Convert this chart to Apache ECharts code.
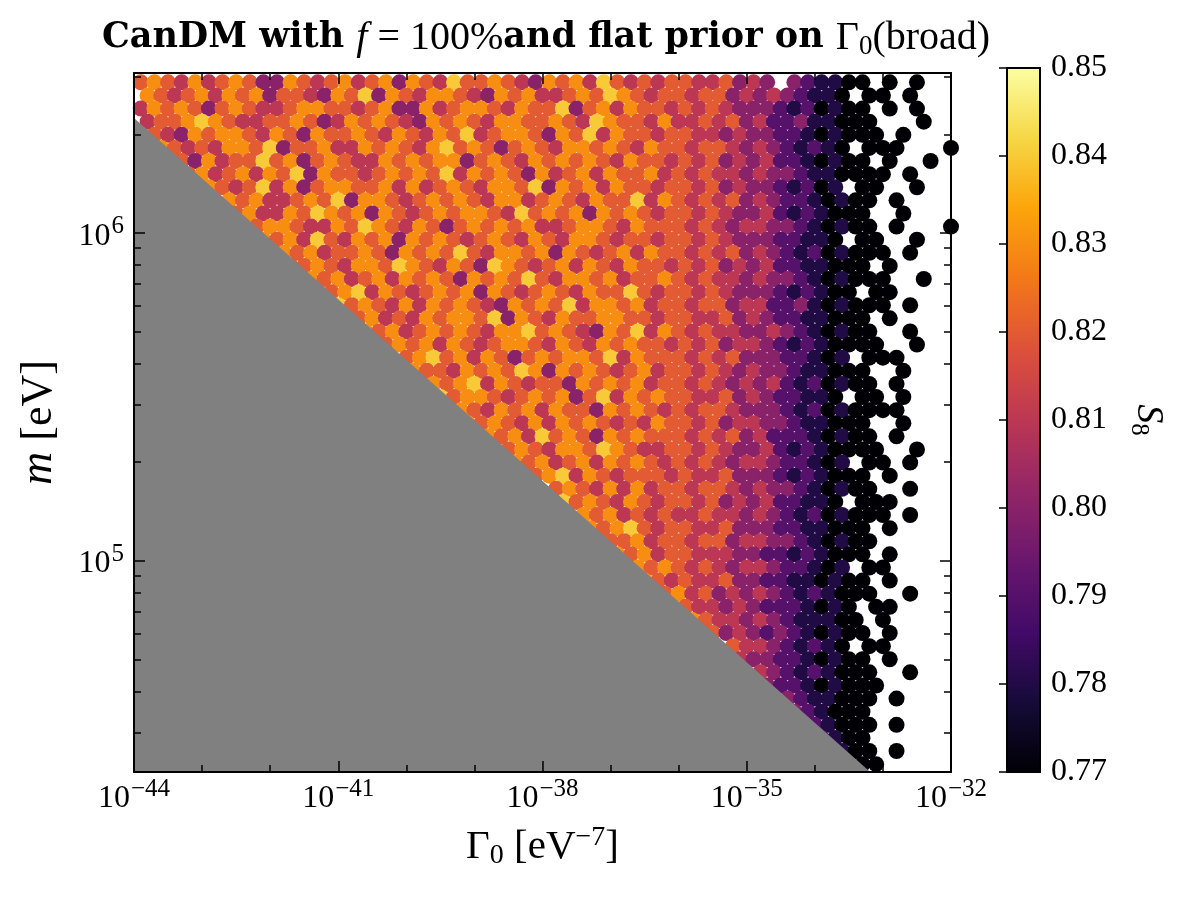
<!DOCTYPE html>
<html>
<head>
<meta charset="utf-8">
<script src="https://cdn.jsdelivr.net/npm/echarts@6/dist/echarts.min.js"></script>
<style>
html, body { margin: 0; padding: 0; background: #fff; }
#container { width: 1200px; height: 901px; }
</style>
</head>
<body>
<div id="container"></div>
<script>
// S8 samples on a grid in (log10 Gamma0, log10 m).
// column c sits at gammaStart + c*gammaStep, row r at massStart + r*massStep.
// digit d means S8 = 0.77 + 0.01*d, '.' means no point there.
var gammaStart = -43.9, gammaStep = 0.2;
var massStart = 6.46, massStep = -0.04;
var s8Rows = [
    "56546 45653 36545 64563 65475 56543 65647 54545 54453 43.32 1100. 0.0..",
    "65456 46563 55436 57365 46654 36564 45657 65455 45534 34321 10.00 .0...",
    "46565 35654 45665 54563 36456 65465 57356 46554 54543 33212 0100. 0.0..",
    "45567 65445 56534 65654 36565 46655 65476 55464 45453 42231 1000. ..0..",
    "65436 56654 65365 56546 54657 45665 36574 65545 54434 33221 01000 .0...",
    ".6545 46657 35564 46565 46756 53565 46656 54655 45543 43212 10.00 0...0",
    "..653 64557 56356 54465 65663 56546 56565 46554 54534 34221 0100. 0..0.",
    "...56 45646 57365 54565 65746 56536 45646 55645 45443 43321 10000 .0...",
    "....7 65457 46356 65564 64565 46657 36564 65545 54534 33212 01.00 ..0..",
    "..... .6564 45657 36654 56565 46645 65465 57465 45453 43221 0100. 0....",
    "..... ..564 46576 56365 45656 65475 65636 56545 54543 34212 1000. .0...",
    "..... ...56 65446 57654 65356 56564 45665 46555 45434 43321 0100. 0...0",
    "..... ....6 56475 46563 65654 56546 54665 45545 54543 33221 10.00 ..0..",
    "..... ..... 65645 56536 56575 46656 36545 64655 45453 43212 01000 .0...",
    "..... ..... .5565 46657 65465 37654 56465 46554 54534 34221 1000. 0....",
    "..... ..... ..656 45646 56536 56575 46656 45565 45443 43321 01000 ..0..",
    "..... ..... ...65 67465 45656 36545 65465 57545 54543 33212 100.0 0....",
    "..... ..... ....7 56546 46565 43656 57466 56455 45534 42231 01000 .0...",
    "..... ..... ..... 65645 46566 57365 46556 65545 54453 43221 1000. 0....",
    "..... ..... ..... .6564 56565 46675 65436 57465 45443 34321 0100. .0...",
    "..... ..... ..... ...56 56465 45665 46546 56554 54534 43212 10000 ..0..",
    "..... ..... ..... ....5 67564 65356 56657 46555 45453 33221 01.00 0....",
    "..... ..... ..... ..... 65546 56576 36565 45645 54543 43321 1000. .0...",
    "..... ..... ..... ..... .6567 46545 53656 56455 45434 34212 0100. 0....",
    "..... ..... ..... ..... ..756 65456 56357 46565 54453 43221 10.00 .0...",
    "..... ..... ..... ..... ...65 46564 65536 56545 45543 33212 01000 0....",
    "..... ..... ..... ..... ....6 56546 46565 45465 54534 43321 1000. .0...",
    "..... ..... ..... ..... ..... 65647 56536 56555 45453 42221 0100. 0....",
    "..... ..... ..... ..... ..... .5565 46657 65445 54543 34212 10000 ..0..",
    "..... ..... ..... ..... ..... ..656 45646 56545 45434 43221 01.00 .0...",
    "..... ..... ..... ..... ..... ...65 67465 45554 54453 33212 1000. 0....",
    "..... ..... ..... ..... ..... ..... 56546 46455 45543 43321 0100. .0...",
    "..... ..... ..... ..... ..... ..... .7565 46545 54534 34221 10.00 0....",
    "..... ..... ..... ..... ..... ..... ..656 45454 45443 43212 01000 .0...",
    "..... ..... ..... ..... ..... ..... ...65 67545 54453 33221 1000. 0....",
    "..... ..... ..... ..... ..... ..... ....5 56455 45534 43321 0100. .....",
    "..... ..... ..... ..... ..... ..... ..... 65645 54443 32212 1000. 0....",
    "..... ..... ..... ..... ..... ..... ..... .6565 45434 43221 01.00 .....",
    "..... ..... ..... ..... ..... ..... ..... ..654 54453 32211 0100. 0....",
    "..... ..... ..... ..... ..... ..... ..... ...56 45343 43212 1000. .0...",
    "..... ..... ..... ..... ..... ..... ..... ....5 54434 32221 010.0 0....",
    "..... ..... ..... ..... ..... ..... ..... ..... 65443 43211 100.0 .....",
    "..... ..... ..... ..... ..... ..... ..... ..... ..534 32321 0100. 0....",
    "..... ..... ..... ..... ..... ..... ..... ..... ...54 43212 10.00 .....",
    "..... ..... ..... ..... ..... ..... ..... ..... ....4 33221 0100. 0....",
    "..... ..... ..... ..... ..... ..... ..... ..... ..... 43212 1000. .0...",
    "..... ..... ..... ..... ..... ..... ..... ..... ..... .3221 01000 .....",
    "..... ..... ..... ..... ..... ..... ..... ..... ..... ..321 1000. 0....",
    "..... ..... ..... ..... ..... ..... ..... ..... ..... ...32 1000. .....",
    "..... ..... ..... ..... ..... ..... ..... ..... ..... ....2 1000. 0....",
    "..... ..... ..... ..... ..... ..... ..... ..... ..... ..... 2100. .....",
    "..... ..... ..... ..... ..... ..... ..... ..... ..... ..... .100. 0....",
    "..... ..... ..... ..... ..... ..... ..... ..... ..... ..... ..000 ....."
];

// edge of the excluded (grey) region, [log10 Gamma0, log10 m]
var boundary = [[-44, 6.351], [-33.19, 4.357]];

// axis ranges and ticks
var gammaMin = -44, gammaMax = -32;
var massMin = 2.27e4, massMax = 3.08e6;
var xMajor = [-44, -41, -38, -35, -32];
var xMinor = [-43, -42, -40, -39, -37, -36, -34, -33];
var yMajor = [1e5, 1e6];
var yMinor = [3e4, 4e4, 5e4, 6e4, 7e4, 8e4, 9e4, 2e5, 3e5, 4e5, 5e5, 6e5, 7e5, 8e5, 9e5, 2e6, 3e6];
var s8Min = 0.77, s8Max = 0.85;
var s8Ticks = [0.77, 0.78, 0.79, 0.80, 0.81, 0.82, 0.83, 0.84, 0.85];
var inferno = ['#000004', '#160b39', '#420a68', '#6a176e', '#932667', '#bc3754',
               '#dd513a', '#f37819', '#fca50a', '#f6d746', '#fcffa4'];

var FONT = 'Liberation Serif';
var BOLD = 'DejaVu Serif';

// build the scatter points (odd rows staggered by half a cell)
var points = [];
s8Rows.forEach(function (row, r) {
    var cells = row.replace(/\s/g, '');
    for (var c = 0; c < cells.length; c++) {
        var ch = cells.charAt(c);
        if (ch === '.') continue;
        var g = gammaStart + c * gammaStep + (r % 2 ? gammaStep / 2 : 0);
        var m = massStart + r * massStep;
        points.push([g, m, +(s8Min + 0.01 * parseInt(ch, 10)).toFixed(2)]);
    }
});

var yLo = Math.log10(massMin), yHi = Math.log10(massMax);

var richTick = {
    b: { fontFamily: FONT, fontSize: 32, lineHeight: 38, color: '#000', verticalAlign: 'bottom' },
    s: { fontFamily: FONT, fontSize: 25, lineHeight: 38, color: '#000', verticalAlign: 'top', padding: [0, 0, 0, 1] }
};

function xAxisDef(pos, ticks, len, major) {
    return {
        type: 'value', gridIndex: 0, min: gammaMin, max: gammaMax, position: pos, z: 10,
        axisLine: { show: major, onZero: false, lineStyle: { color: '#000', width: 2 } },
        splitLine: { show: false },
        axisTick: { show: true, inside: true, length: len, customValues: ticks,
                    lineStyle: { color: '#000', width: 1.5 } },
        axisLabel: { show: major && pos === 'bottom', customValues: ticks, margin: 5,
                     formatter: function (v) { return '{b|10}{s|\u2212' + Math.abs(v) + '}'; },
                     rich: richTick }
    };
}
function yAxisDef(pos, ticks, len, major) {
    return {
        type: 'value', gridIndex: 0, min: yLo, max: yHi, position: pos, z: 10,
        axisLine: { show: major, onZero: false, lineStyle: { color: '#000', width: 2 } },
        splitLine: { show: false },
        axisTick: { show: true, inside: true, length: len, customValues: ticks.map(Math.log10),
                    lineStyle: { color: '#000', width: 1.5 } },
        axisLabel: { show: major && pos === 'left', customValues: ticks.map(Math.log10), margin: 10,
                     formatter: function (v) { return '{b|10}{s|' + Math.round(v) + '}'; },
                     rich: richTick }
    };
}

var xAxes = [
    xAxisDef('bottom', xMajor, 11, true),
    xAxisDef('bottom', xMinor, 7, false),
    xAxisDef('top', xMajor, 11, true),
    xAxisDef('top', xMinor, 7, false),
    { type: 'value', gridIndex: 1, min: 0, max: 1, show: false }
];
xAxes[0].name = '{r|\u0393}{sub|0}{r| [eV}{sup|\u22127}{r|]}';
xAxes[0].nameLocation = 'middle';
xAxes[0].nameGap = 52;
xAxes[0].nameMoveOverlap = false;
xAxes[0].nameTextStyle = { rich: {
    r: { fontFamily: FONT, fontSize: 41, lineHeight: 46, color: '#000' },
    sub: { fontFamily: FONT, fontSize: 28, lineHeight: 46, color: '#000', verticalAlign: 'bottom' },
    sup: { fontFamily: FONT, fontSize: 28, lineHeight: 46, color: '#000', verticalAlign: 'top' }
} };

var yAxes = [
    yAxisDef('left', yMajor, 11, true),
    yAxisDef('left', yMinor, 7, false),
    yAxisDef('right', yMajor, 11, true),
    yAxisDef('right', yMinor, 7, false),
    {
        type: 'value', gridIndex: 1, min: s8Min, max: s8Max, position: 'right', z: 10,
        axisLine: { show: false }, splitLine: { show: false },
        axisTick: { show: true, inside: true, length: 8, customValues: s8Ticks,
                    lineStyle: { color: '#000', width: 1.5 } },
        axisLabel: { customValues: s8Ticks, margin: 11, fontFamily: FONT, fontSize: 32, color: '#000',
                     formatter: function (v) { return v.toFixed(2); } },
        name: '{i|S}{sub|8}', nameLocation: 'middle', nameRotate: -90, nameGap: 86,
        nameTextStyle: { rich: {
            i: { fontFamily: FONT, fontStyle: 'italic', fontSize: 38, lineHeight: 44, color: '#000' },
            sub: { fontFamily: FONT, fontSize: 25, lineHeight: 44, color: '#000', verticalAlign: 'bottom' }
        } }
    }
];
yAxes[0].name = '{i|m}{r| [eV]}';
yAxes[0].nameLocation = 'middle';
yAxes[0].nameGap = 72;
yAxes[0].nameTextStyle = { rich: {
    i: { fontFamily: FONT, fontStyle: 'italic', fontSize: 46, color: '#000' },
    r: { fontFamily: FONT, fontSize: 44, color: '#000' }
} };

var gradientStops = inferno.map(function (c, i) {
    return { offset: i / (inferno.length - 1), color: c };
});

var myChart = echarts.init(document.getElementById('container'));
var option = {
    animation: false,
    backgroundColor: '#fff',
    grid: [
        { left: 134, right: 249, top: 73, bottom: 129 },
        { left: 1007, width: 33, top: 68, bottom: 129 }
    ],
    graphic: [{
        type: 'text', x: 546, y: 38, z: 20,
        style: {
            text: '{b|CanDM with }{i|f}{r| = 100%}{b|and flat prior on }{r|\u0393}{sub|0}{r|(broad)}',
            align: 'center', verticalAlign: 'middle',
            rich: {
                b: { fontFamily: BOLD, fontWeight: 'bold', fontSize: 35, lineHeight: 44, fill: '#000' },
                i: { fontFamily: FONT, fontStyle: 'italic', fontSize: 40, lineHeight: 44, fill: '#000' },
                r: { fontFamily: FONT, fontSize: 40, lineHeight: 44, fill: '#000' },
                sub: { fontFamily: FONT, fontSize: 27, lineHeight: 44, fill: '#000', verticalAlign: 'bottom' }
            }
        }
    }],
    xAxis: xAxes,
    yAxis: yAxes,
    visualMap: {
        show: false, type: 'continuous', min: s8Min, max: s8Max,
        dimension: 2, seriesIndex: 0, inRange: { color: inferno }
    },
    series: [
        {
            type: 'scatter', xAxisIndex: 0, yAxisIndex: 0, z: 2,
            symbolSize: 16, data: points, clip: true,
            itemStyle: { opacity: 1 }
        },
        {
            // excluded region below the boundary line
            type: 'custom', xAxisIndex: 0, yAxisIndex: 0, z: 3,
            data: [0],
            renderItem: function (params, api) {
                var pts = boundary.map(function (p) { return api.coord(p); });
                pts.push(api.coord([boundary[0][0], yLo]));
                return { type: 'polygon', shape: { points: pts }, style: { fill: '#808080' } };
            }
        },
        {
            // colour bar
            type: 'custom', xAxisIndex: 4, yAxisIndex: 4, z: 2,
            data: [0],
            renderItem: function (params, api) {
                var a = api.coord([0, s8Max]), b = api.coord([1, s8Min]);
                return {
                    type: 'rect',
                    shape: { x: a[0], y: a[1], width: b[0] - a[0], height: b[1] - a[1] },
                    style: {
                        fill: new echarts.graphic.LinearGradient(0, 1, 0, 0, gradientStops),
                        stroke: '#000', lineWidth: 2
                    }
                };
            }
        }
    ]
};
myChart.setOption(option);
</script>
</body>
</html>
